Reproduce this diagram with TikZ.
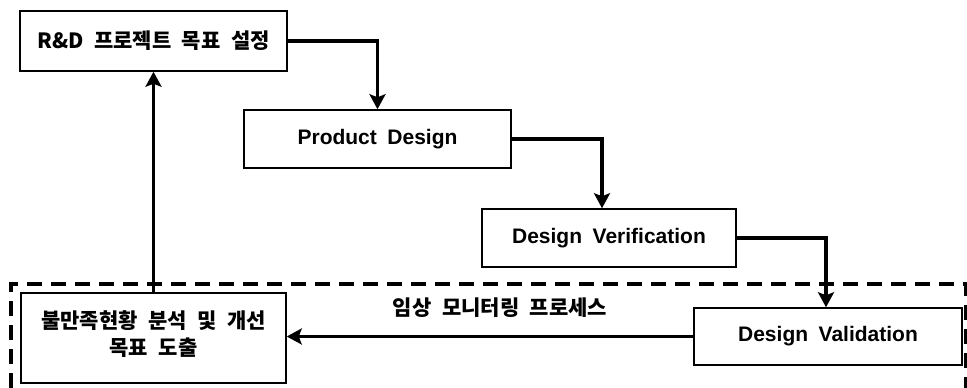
\documentclass[tikz,border=0pt]{standalone}
\usepackage{fontspec}
\setmainfont{Liberation Sans}
\newfontfamily\kr{Noto Sans CJK KR}
\usetikzlibrary{arrows.meta}
\newcommand{\wsp}{\hspace{0.5em}}
\begin{document}
\begin{tikzpicture}[x=1pt,y=-1pt,
  stepbox/.style={draw, line width=1.5pt, rectangle, inner sep=0pt, align=center},
  entxt/.style={font=\fontsize{21}{24}\selectfont\bfseries},
  krtxt/.style={font=\kr\bfseries\fontsize{21}{27}\selectfont},
  flow/.style={line width=3.6pt, -{Stealth[length=15pt,width=16pt,inset=3pt]}},
  region/.style={line width=3.2pt, dash pattern=on 15pt off 9pt}]
\useasboundingbox (0,0) rectangle (967,388);

% clinical monitoring region (dashed outline)
\draw[region] (11,388) -- (11,284) -- (966,284) -- (966,388);

% process steps
\node[stepbox, krtxt, minimum width=267pt, minimum height=60pt] (goal) at (153.5,41) {R\&D\wsp 프로젝트\wsp 목표\wsp 설정};
\node[stepbox, entxt, minimum width=267pt, minimum height=58pt] (pd) at (377.5,139) {Product\wsp Design};
\node[stepbox, entxt, minimum width=254pt, minimum height=58pt] (dv) at (609,238) {Design\wsp Verification};
\node[stepbox, entxt, minimum width=268pt, minimum height=57pt] (val) at (828,336.5) {Design\wsp Validation};
\node[stepbox, minimum width=265pt, minimum height=90pt] (fb) at (153.5,338) {};
\node[krtxt, align=center, inner sep=0pt] (fbtxt) at (153.5,334) {불만족현황\wsp 분석\wsp 및\wsp 개선\\ 목표\wsp 도출};

% connectors
\draw[flow] (goal.east) -| (pd.north);
\draw[flow] (pd.east) -| ([xshift=-7pt]dv.north);
\draw[flow] (dv.east) -| ([xshift=-2pt]val.north);
\draw[flow] (val.west) -- (val.west -| fb.east)
  node[krtxt, midway, above=17pt, xshift=10pt, inner sep=0pt] (lbl) {임상\wsp 모니터링\wsp 프로세스};
\draw[flow] (fb.north) -- (goal.south);
\end{tikzpicture}
\end{document}
